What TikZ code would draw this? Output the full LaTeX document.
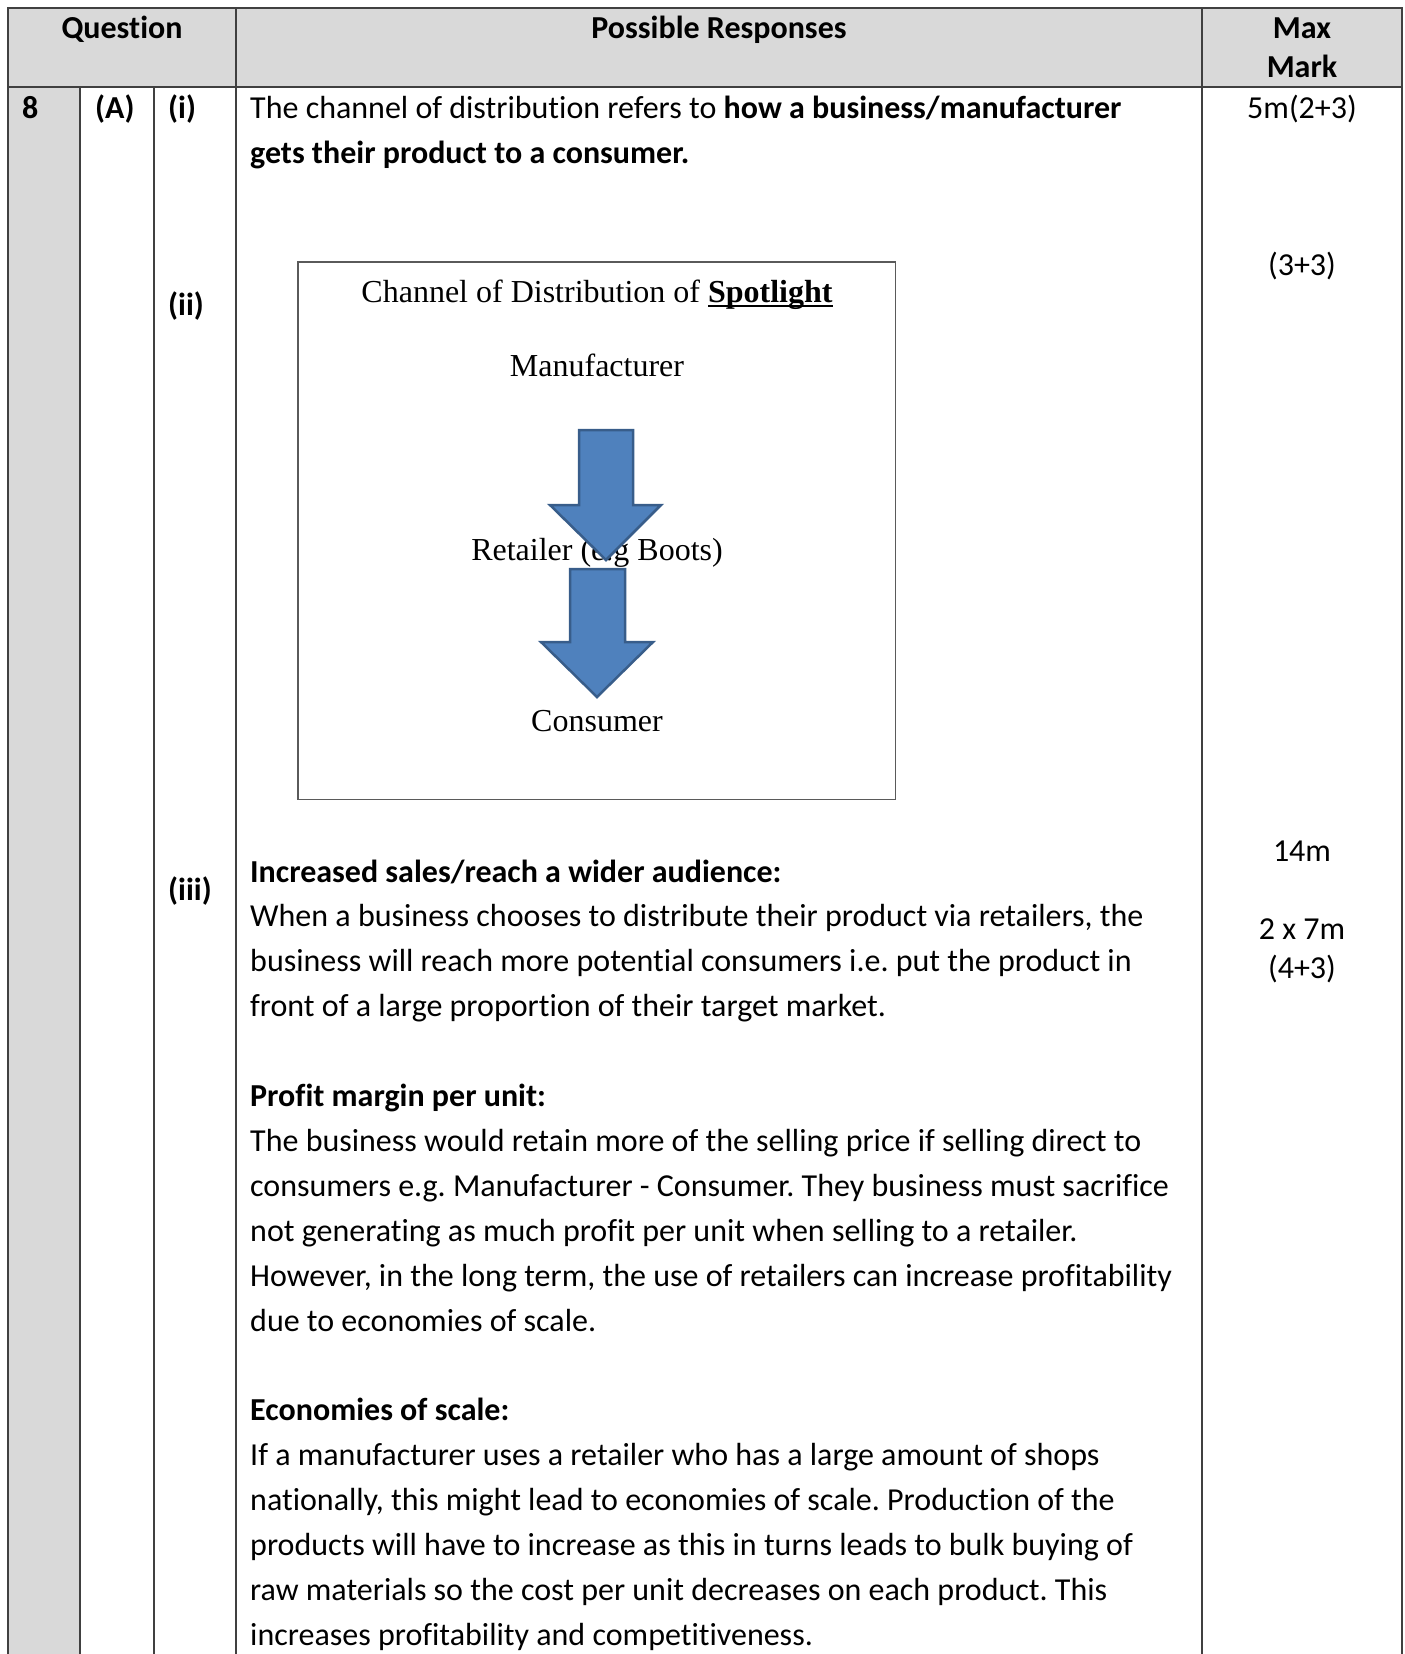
\documentclass[tikz,border=0pt]{standalone}
\usepackage{fontspec}
\setmainfont{Carlito}[Ligatures=NoCommon]
\newfontfamily\diagfont{Liberation Serif}
\usepackage{xcolor}
\usepackage{tikz}
\definecolor{headgray}{RGB}{217,217,217}
\definecolor{rulegray}{RGB}{64,64,64}
\definecolor{boxgray}{RGB}{90,90,90}
\definecolor{arrowfill}{RGB}{79,129,189}
\definecolor{arrowedge}{RGB}{56,93,138}
\newcommand{\ulword}[1]{\setbox0\hbox{#1}\rlap{\rule[-4pt]{\wd0}{1.8pt}}\box0}
\frenchspacing

\begin{document}
\begin{tikzpicture}[x=1pt, y=-1pt,
    every node/.style={inner sep=0pt},
    body/.style={font=\fontsize{32}{44.9}\selectfont},
    head/.style={font=\fontsize{32}{39}\selectfont\bfseries},
    diag/.style={font=\diagfont\fontsize{32}{38}\selectfont, anchor=base},
    rule/.style={rulegray, line width=1.6pt},
    flow/.style={fill=arrowfill, draw=arrowedge, line width=2.5pt, line join=miter}]
      \useasboundingbox (0,0) rectangle (1405,1654);
      % shading
      \fill[headgray] (8,8) rectangle (1402,87);
      \fill[headgray] (8,87) rectangle (80,1654);
      % table rules
      \draw[rule] (8,1654) -- (8,8) -- (1402,8) -- (1402,1654);
      \draw[rule] (8,87) -- (1402,87);
      \draw[rule] (80,87) -- (80,1654);
      \draw[rule] (154,87) -- (154,1654);
      \draw[rule] (236,8) -- (236,1654);
      \draw[rule] (1202,8) -- (1202,1654);
      % header row
      \node[head, anchor=base] (question) at (122,38.5) {Question};
      \node[head, anchor=base] (responses) at (719,38.5) {Possible Responses};
      \node[head, anchor=base] (maxword) at (1302,38.5) {Max};
      \node[head, anchor=base] (markword) at (1302,77.5) {Mark};
      % question labels
      \node[head, anchor=base west] (qnum) at (22,118.6) {8};
      \node[head, anchor=base west] (qpart) at (95,118.6) {(A)};
      \node[head, anchor=base west] (qi) at (168,118.6) {(i)};
      \node[head, anchor=base west] (qii) at (168,315) {(ii)};
      \node[head, anchor=base west] (qiii) at (168,900) {(iii)};
      % marks
      \node[body, anchor=base] (marki) at (1302,118.6) {5m(2+3)};
      \node[body, anchor=base] (markii) at (1302,275) {(3+3)};
      \node[body, anchor=base] (markiii) at (1302,861) {14m};
      \node[body, anchor=base] (markiiia) at (1302,939) {2 x 7m};
      \node[body, anchor=base] (markiiib) at (1302,978) {(4+3)};
      % answer (i)
      \node[body, anchor=base west, text width=1000pt, align=flush left] (answeri) at (250,118.6)
        {The channel of distribution refers to \textbf{how a business/manufacturer}\\
         \textbf{gets their product to a consumer.}};
      % answer (ii)
      \draw[boxgray, line width=1.3pt] (298,262) rectangle (895.5,799.5);
      \node[diag] (title) at (597,302.5) {Channel of Distribution of \ulword{\textbf{Spotlight}}};
      \node[diag] (maker) at (597,376.5) {Manufacturer};
      \node[diag] (retailer) at (597,560) {Retailer (e.g Boots)};
      \node[diag] (consumer) at (597,731) {Consumer};
      \draw[flow] (579,430) -- (633,430) -- (633,505) -- (661,505) -- (606,560)
        -- (550,505) -- (579,505) -- cycle;
      \draw[flow] (570,569) -- (625,569) -- (625,642) -- (653,642) -- (597,697)
        -- (541,642) -- (570,642) -- cycle;
      % answer (iii)
      \node[body, anchor=base west, text width=1000pt, align=flush left] (answeriii) at (250,882)
        {\textbf{Increased sales/reach a wider audience:}\\
         When a business chooses to distribute their product via retailers, the\\
         business will reach more potential consumers i.e. put the product in\\
         front of a large proportion of their target market.\\[44.9pt]
         \textbf{Profit margin per unit:}\\
         The business would retain more of the selling price if selling direct to\\
         consumers e.g. Manufacturer - Consumer. They business must sacrifice\\
         not generating as much profit per unit when selling to a retailer.\\
         However, in the long term, the use of retailers can increase profitability\\
         due to economies of scale.\\[44.9pt]
         \textbf{Economies of scale:}\\
         If a manufacturer uses a retailer who has a large amount of shops\\
         nationally, this might lead to economies of scale. Production of the\\
         products will have to increase as this in turns leads to bulk buying of\\
         raw materials so the cost per unit decreases on each product. This\\
         increases profitability and competitiveness.};
\end{tikzpicture}
\end{document}
